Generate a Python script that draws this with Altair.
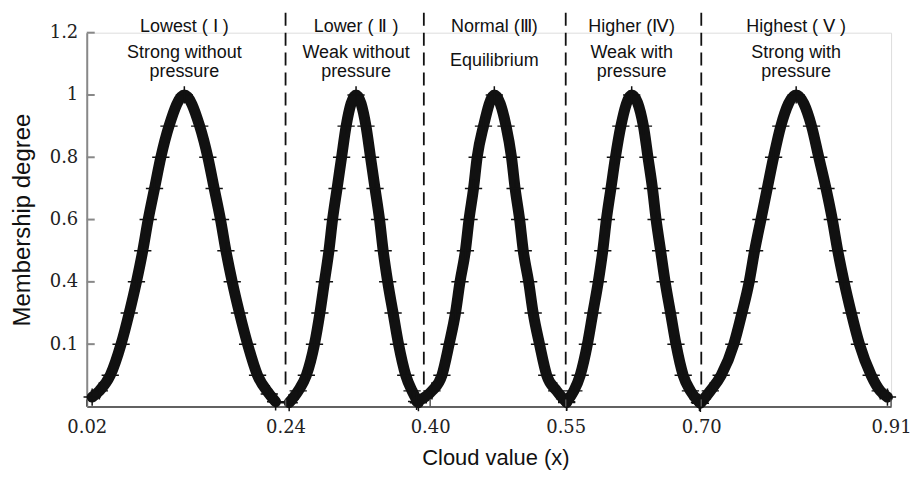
import altair as alt
import pandas as pd

# ---- data ----
curve_names = ["Lowest", "Lower", "Normal", "Higher", "Highest"]

c1_x = [0.026, 0.034, 0.046, 0.058, 0.067, 0.075, 0.082, 0.088, 0.095, 0.102, 0.111, 0.128,
        0.145, 0.154, 0.161, 0.168, 0.174, 0.181, 0.189, 0.198, 0.209, 0.222, 0.229]
c1_y = [0.03, 0.05, 0.10, 0.20, 0.30, 0.40, 0.50, 0.60, 0.70, 0.80, 0.90, 1.00,
        0.90, 0.80, 0.70, 0.60, 0.50, 0.40, 0.30, 0.20, 0.10, 0.04, 0.015]

c2_x = [0.244, 0.254, 0.263, 0.272, 0.278, 0.283, 0.288, 0.292, 0.297, 0.302, 0.307, 0.318,
        0.329, 0.334, 0.339, 0.344, 0.348, 0.353, 0.359, 0.365, 0.373, 0.380, 0.387]
c2_y = [0.012, 0.05, 0.10, 0.20, 0.30, 0.40, 0.50, 0.60, 0.70, 0.80, 0.90, 1.00,
        0.90, 0.80, 0.70, 0.60, 0.50, 0.40, 0.30, 0.20, 0.10, 0.05, 0.012]

c3_x = [0.385, 0.402, 0.413, 0.421, 0.428, 0.433, 0.439, 0.443, 0.448, 0.452, 0.459, 0.471,
        0.484, 0.490, 0.494, 0.499, 0.503, 0.509, 0.514, 0.521, 0.529, 0.540, 0.551]
c3_y = [0.016, 0.05, 0.10, 0.20, 0.30, 0.40, 0.50, 0.60, 0.70, 0.80, 0.90, 1.00,
        0.90, 0.80, 0.70, 0.60, 0.50, 0.40, 0.30, 0.20, 0.10, 0.05, 0.013]

c4_x = [0.551, 0.559, 0.566, 0.574, 0.580, 0.586, 0.591, 0.595, 0.600, 0.605, 0.611, 0.623,
        0.636, 0.641, 0.646, 0.650, 0.655, 0.660, 0.666, 0.672, 0.680, 0.688, 0.698]
c4_y = [0.015, 0.05, 0.10, 0.20, 0.30, 0.40, 0.50, 0.60, 0.70, 0.80, 0.90, 1.00,
        0.90, 0.80, 0.70, 0.60, 0.50, 0.40, 0.30, 0.20, 0.10, 0.05, 0.013]

c5_x = [0.699, 0.710, 0.722, 0.736, 0.745, 0.753, 0.759, 0.766, 0.773, 0.780, 0.788, 0.805,
        0.822, 0.830, 0.838, 0.845, 0.851, 0.858, 0.866, 0.875, 0.888, 0.898, 0.906]
c5_y = [0.01, 0.05, 0.10, 0.20, 0.30, 0.40, 0.50, 0.60, 0.70, 0.80, 0.90, 1.00,
        0.90, 0.80, 0.70, 0.60, 0.50, 0.40, 0.30, 0.20, 0.10, 0.05, 0.03]

class_titles = ["Lowest ( \u2160 )", "Lower ( \u2161 )", "Normal (\u2162)", "Higher (\u2163)", "Highest ( \u2164 )"]
class_desc = ["Strong without\npressure", "Weak without\npressure", "Equilibrium",
              "Weak with\npressure", "Strong with\npressure"]
class_center = [0.128, 0.318, 0.471, 0.623, 0.805]

boundaries = [0.24, 0.393, 0.55, 0.70]
x_ticks = [0.02, 0.24, 0.40, 0.55, 0.70, 0.91]
y_ticks = [0.2, 0.4, 0.6, 0.8, 1.0, 1.2]

# ---- tables ----
rows = []
for name, xs, ys in zip(curve_names, [c1_x, c2_x, c3_x, c4_x, c5_x], [c1_y, c2_y, c3_y, c4_y, c5_y]):
    for xv, yv in zip(xs, ys):
        rows.append({"curve": name, "x": xv, "y": yv})
drops = pd.DataFrame(rows)
labels = pd.DataFrame({"x": class_center, "title": class_titles, "desc": class_desc})
bnd = pd.DataFrame({"x": boundaries})
xt = pd.DataFrame({"x": x_ticks})
yt = pd.DataFrame({"y": y_ticks})

W, H = 807, 375
xscale = alt.Scale(domain=[0.02, 0.91], nice=False, zero=False)
yscale = alt.Scale(domain=[0, 1.2], nice=False, zero=False)

xaxis = alt.Axis(values=x_ticks, format=".2f", title="Cloud value (x)", grid=False, ticks=False,
                 labelFont="DejaVu Serif", labelFontSize=18, labelColor="#222", labelPadding=12,
                 domainColor="#333", domainWidth=1.5,
                 titleFont="Liberation Sans", titleFontSize=22, titleFontWeight="normal",
                 titleColor="#111", titlePadding=11, titleX=410, labelFlush=False)
yaxis = alt.Axis(values=y_ticks, format=".1~f", title="Membership degree", grid=False, ticks=False,
                 labelExpr="datum.value == 0.2 ? '0.1' : datum.label",
                 labelFont="DejaVu Serif", labelFontSize=18, labelColor="#222", labelPadding=9,
                 domainColor="#888", domainWidth=2,
                 titleFont="Liberation Sans", titleFontSize=24, titleFontWeight="normal",
                 titleColor="#111", titlePadding=15, labelFlush=False)

base = alt.Chart(drops)

band = base.mark_line(color="#111", strokeWidth=11, interpolate="monotone",
                      strokeCap="round", strokeJoin="round").encode(
    x=alt.X("x:Q", scale=xscale, axis=xaxis),
    y=alt.Y("y:Q", scale=yscale, axis=yaxis),
    detail="curve:N",
    order="x:Q",
)

crosses = base.mark_point(shape="M-1,0L1,0M0,-1L0,1", filled=False, size=300,
                          strokeWidth=1.5, color="#111", opacity=1).encode(
    x=alt.X("x:Q", scale=xscale),
    y=alt.Y("y:Q", scale=yscale),
)

dashes = alt.Chart(bnd).mark_rule(color="#111", strokeWidth=1.8, strokeDash=[13, 7]).encode(
    x=alt.X("x:Q", scale=xscale),
    y=alt.value(-20),
    y2=alt.value(357),
)

yticks = alt.Chart(yt).mark_rule(color="#888", strokeWidth=2).encode(
    y=alt.Y("y:Q", scale=yscale),
    x=alt.value(0),
    x2=alt.value(8),
)
xticks = alt.Chart(xt).mark_rule(color="#555", strokeWidth=1.5).encode(
    x=alt.X("x:Q", scale=xscale),
    y=alt.value(H),
    y2=alt.value(H - 7),
)

titles = alt.Chart(labels).mark_text(font="Liberation Sans", fontSize=18, color="#111",
                                     align="center", baseline="middle").encode(
    x=alt.X("x:Q", scale=xscale),
    y=alt.datum(1.217, scale=yscale),
    text="title:N",
)
descs_two = alt.Chart(labels).transform_filter(
    "indexof(datum.desc, '\\n') >= 0"
).mark_text(font="Liberation Sans", fontSize=18, color="#111",
            align="center", baseline="middle", lineBreak="\n", lineHeight=19).encode(
    x=alt.X("x:Q", scale=xscale),
    y=alt.datum(1.135, scale=yscale),
    text="desc:N",
)
descs_one = alt.Chart(labels).transform_filter(
    "indexof(datum.desc, '\\n') < 0"
).mark_text(font="Liberation Sans", fontSize=18, color="#111",
            align="center", baseline="middle").encode(
    x=alt.X("x:Q", scale=xscale),
    y=alt.datum(1.110, scale=yscale),
    text="desc:N",
)

chart = alt.layer(dashes, band, crosses, yticks, xticks, titles, descs_two, descs_one).properties(
    width=W, height=H,
    autosize=alt.AutoSizeParams(type="none"),
    padding={"left": 79, "top": 24, "right": 21, "bottom": 64},
).configure_view(stroke=None).configure(background="white")

chart.save("out.html", embed_options={"renderer": "svg", "actions": False})
